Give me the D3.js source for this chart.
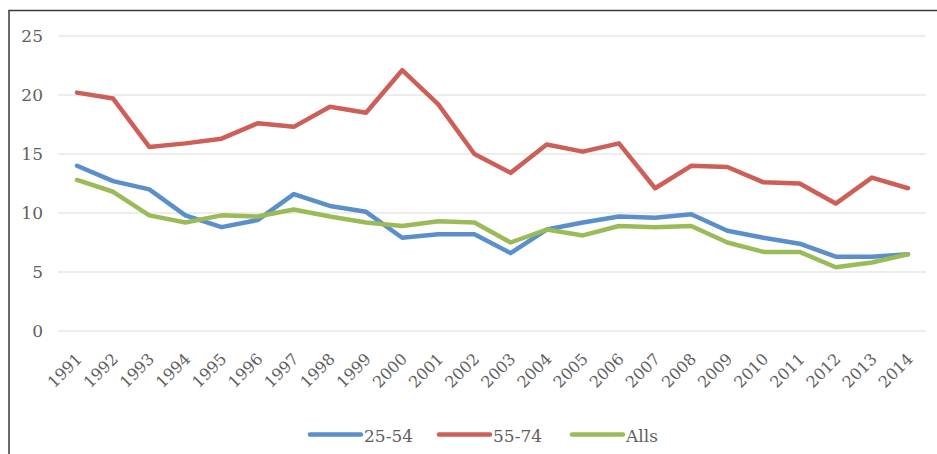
<!DOCTYPE html>
<html>
<head>
<meta charset="utf-8">
<script src="https://cdn.jsdelivr.net/npm/d3@7"></script>
<style>
  body { margin: 0; background: #fff; }
  text { font-family: "DejaVu Serif", "Liberation Serif", serif; fill: #5f5f5f; }
</style>
</head>
<body>
<div id="chart"></div>
<script>
const years = d3.range(1991, 2015).map(String);
const yTicks = [0, 5, 10, 15, 20, 25];
const prime = [14.0, 12.7, 12.0, 9.8, 8.8, 9.4, 11.6, 10.6, 10.1, 7.9, 8.2, 8.2, 6.6, 8.6, 9.2, 9.7, 9.6, 9.9, 8.5, 7.9, 7.4, 6.3, 6.3, 6.5];
const older = [20.2, 19.7, 15.6, 15.9, 16.3, 17.6, 17.3, 19.0, 18.5, 22.1, 19.2, 15.0, 13.4, 15.8, 15.2, 15.9, 12.1, 14.0, 13.9, 12.6, 12.5, 10.8, 13.0, 12.1];
const alls = [12.8, 11.8, 9.8, 9.2, 9.8, 9.7, 10.3, 9.7, 9.2, 8.9, 9.3, 9.2, 7.5, 8.6, 8.1, 8.9, 8.8, 8.9, 7.5, 6.7, 6.7, 5.4, 5.8, 6.5];
const seriesNames = ["25-54", "55-74", "Alls"];
const seriesColors = ["#5B8FCB", "#CD5F58", "#9BBB59"];

const width = 937, height = 454;
const svg = d3.select("#chart").append("svg")
    .attr("width", width)
    .attr("height", height);

// outer frame
svg.append("rect")
    .attr("x", 9).attr("y", 10.5)
    .attr("width", 960).attr("height", 480)
    .attr("fill", "none")
    .attr("stroke", "#3a3a3a")
    .attr("stroke-width", 1.5);

const x = d3.scalePoint().domain(years).range([77, 908]);
const y = d3.scaleLinear().domain([0, 25]).range([331, 36]);

// gridlines
svg.append("g")
    .selectAll("line")
    .data(yTicks)
    .enter()
    .append("line")
    .attr("x1", 58).attr("x2", 926)
    .attr("y1", d => y(d)).attr("y2", d => y(d))
    .attr("stroke", "#dcdcdc")
    .attr("stroke-width", 1.2);

// y labels
svg.append("g")
    .selectAll("text")
    .data(yTicks)
    .enter()
    .append("text")
    .attr("x", 43)
    .attr("y", d => y(d) + 6)
    .attr("text-anchor", "end")
    .attr("font-size", 17)
    .text(d => d);

// x labels, rotated
svg.append("g")
    .selectAll("text")
    .data(years)
    .enter()
    .append("text")
    .attr("transform", d => "translate(" + (x(d) + 6) + ",360) rotate(-45)")
    .attr("text-anchor", "end")
    .attr("font-size", 16)
    .text(d => d);

// lines
const line = d3.line()
    .x((d, i) => x(years[i]))
    .y(d => y(d));

[prime, older, alls].forEach((vals, i) => {
    svg.append("path")
        .datum(vals)
        .attr("d", line)
        .attr("fill", "none")
        .attr("stroke", seriesColors[i])
        .attr("stroke-width", 4.5)
        .attr("stroke-linejoin", "round")
        .attr("stroke-linecap", "round");
});

// legend
const legendX = [310, 439, 572];
const legend = svg.append("g");
seriesNames.forEach((name, i) => {
    legend.append("line")
        .attr("x1", legendX[i]).attr("x2", legendX[i] + 51)
        .attr("y1", 434.5).attr("y2", 434.5)
        .attr("stroke", seriesColors[i])
        .attr("stroke-width", 4.5)
        .attr("stroke-linecap", "round");
    legend.append("text")
        .attr("x", legendX[i] + 54)
        .attr("y", 442)
        .attr("font-size", 17)
        .text(name);
});
</script>
</body>
</html>
